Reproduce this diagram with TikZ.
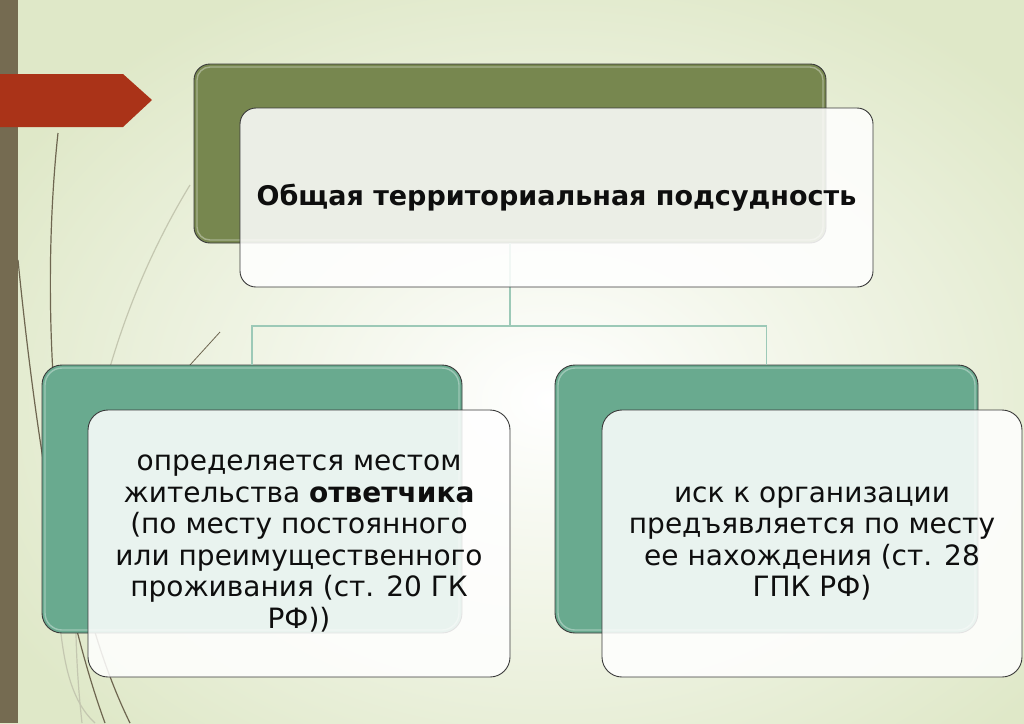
\documentclass[tikz,border=0pt]{standalone}
\usepackage{fontspec}
\setmainfont{DejaVu Sans}
\definecolor{bgc}{HTML}{DFE8C8}
\definecolor{barc}{HTML}{756B51}
\definecolor{redc}{HTML}{AA3318}
\definecolor{olive}{HTML}{77874F}
\definecolor{teal}{HTML}{69AA8F}
\definecolor{conn}{HTML}{9CC9B7}
\definecolor{edgec}{HTML}{3A3A3A}
\definecolor{txt}{HTML}{0E0E0E}
\definecolor{deco}{HTML}{6E6650}
\definecolor{lightc}{HTML}{C4C7B0}
\begin{document}
\begin{tikzpicture}[x=1pt,y=-1pt,
  greenbox/.style={rectangle, rounded corners=16pt, draw=edgec, line width=0.9pt,
    inner sep=0pt, outer sep=0pt, anchor=north west},
  whitebox/.style={rectangle, rounded corners=20pt, draw=edgec, line width=0.9pt,
    inner sep=0pt, outer sep=0pt, anchor=north west, fill=white, fill opacity=0.86,
    text opacity=1, text=txt, align=center},
  conline/.style={draw=conn, line width=1.3pt},
  decoline/.style={draw=deco, line width=1.2pt},
  lightdeco/.style={draw=lightc, line width=1.2pt},
  highlight/.style={draw=white, opacity=0.35, line width=1.4pt}
]
\useasboundingbox (0,0) rectangle (1024,723);
% background
\fill[bgc] (0,0) rectangle (1024,723);
\shade[inner color=white, outer color=bgc] (-80,-60) rectangle (1180,860);
% left bar and red arrow
\fill[barc] (0,0) rectangle (18,723);
\fill[redc] (0,74) -- (123,74) -- (152,100) -- (123,127) -- (0,127) -- cycle;
% decorative lines
\draw[lightdeco] (190,185) .. controls (120,300) and (55,480) .. (82,723);
\draw[lightdeco] (58,600) .. controls (62,660) and (70,700) .. (95,723);
\draw[decoline] (58,133) .. controls (40,300) and (50,560) .. (130,723);
\draw[decoline] (18,260) .. controls (34,420) and (60,600) .. (105,723);
\draw[draw=deco, line width=0.8pt] (220,332) -- (190,365);
% green back boxes
\node[greenbox, fill=olive, minimum width=632pt, minimum height=179pt] (g1) at (194,64) {};
\node[greenbox, fill=teal, rounded corners=20pt, minimum width=420pt, minimum height=268pt] (g2) at (42,365) {};
\node[greenbox, fill=teal, rounded corners=20pt, minimum width=423pt, minimum height=268pt] (g3) at (555,365) {};
\draw[highlight, rounded corners=13pt] ([shift={(3,3)}]g1.north west) rectangle ([shift={(-3,-3)}]g1.south east);
\draw[highlight, rounded corners=17pt] ([shift={(3,3)}]g2.north west) rectangle ([shift={(-3,-3)}]g2.south east);
\draw[highlight, rounded corners=17pt] ([shift={(3,3)}]g3.north west) rectangle ([shift={(-3,-3)}]g3.south east);
% connectors
\coordinate (lvl) at (0,326);
\coordinate (hub) at (g1.south |- lvl);
\draw[conline] (g1.south) -- (hub);
\draw[conline] (hub) -| (g2.north);
\draw[conline] (hub) -| (g3.north);
% white front boxes
\node[whitebox, rounded corners=16pt, minimum width=633pt, minimum height=179pt,
  font=\fontsize{27}{32}\selectfont\bfseries] (w1) at (240,108)
  {\raisebox{-3pt}{Общая территориальная подсудность}};
\node[whitebox, minimum width=422pt, minimum height=267pt,
  font=\fontsize{28}{31.5}\selectfont] (w2) at (88,410)
  {определяется местом\\жительства \textbf{ответчика}\\(по месту постоянного\\или преимущественного\\проживания (ст. 20 ГК\\РФ))};
\node[whitebox, minimum width=420pt, minimum height=267pt,
  font=\fontsize{28}{31.5}\selectfont] (w3) at (602,410)
  {иск к организации\\предъявляется по месту\\ее нахождения (ст. 28\\ГПК РФ)};
\end{tikzpicture}
\end{document}
